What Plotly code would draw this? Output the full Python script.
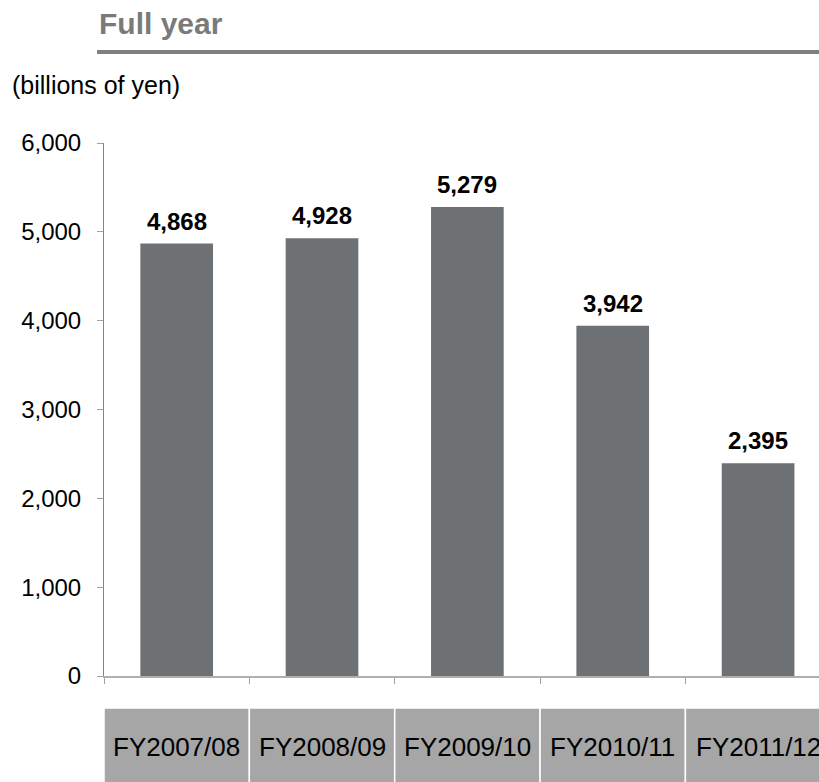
import plotly.graph_objects as go

# Net sales by fiscal year (billions of yen)
categories = ["FY2007/08", "FY2008/09", "FY2009/10", "FY2010/11", "FY2011/12"]
values = [4868, 4928, 5279, 3942, 2395]
y_ticks = [0, 1000, 2000, 3000, 4000, 5000, 6000]

W, H = 819, 782
M_L, M_T, M_B = 104, 143, 106
plot_w = W - M_L
plot_h = H - M_T - M_B
cat_px = 145.35  # horizontal space per category


def py(px_y):
    """Convert a page pixel row into paper y."""
    return (H - M_B - px_y) / plot_h


def px_x(px):
    """Convert a page pixel column into paper x."""
    return (px - M_L) / plot_w


x_pos = list(range(len(categories)))

fig = go.Figure()
fig.add_trace(go.Bar(
    x=x_pos, y=values, width=0.5,
    marker=dict(color="#6e7174", line=dict(width=0)),
    hoverinfo="skip",
))

annotations = []
# value labels above bars
for x, v in zip(x_pos, values):
    annotations.append(dict(
        x=x, y=v, xref="x", yref="y", text=f"<b>{v:,}</b>",
        showarrow=False, yanchor="bottom", yshift=7,
        font=dict(family="Liberation Sans, Arial", size=24, color="#000000"),
    ))

shapes = []
# category table row beneath the axis
for x, c in zip(x_pos, categories):
    shapes.append(dict(
        type="rect", xref="x", yref="paper",
        x0=x - 0.5, x1=x + 0.5, y0=py(800), y1=py(708),
        fillcolor="#a6a6a6", line=dict(color="#ffffff", width=1.5), layer="below",
    ))
    annotations.append(dict(
        x=x, y=py(747), xref="x", yref="paper", text=c, showarrow=False,
        xanchor="center", yanchor="middle",
        font=dict(family="Liberation Sans, Arial", size=26, color="#000000"),
    ))

# heading and rule
annotations.append(dict(
    x=px_x(97), y=py(23), xref="paper", yref="paper", text="<b>Full year</b>",
    showarrow=False, xanchor="left", yanchor="middle",
    font=dict(family="Liberation Sans, Arial", size=30, color="#7a7a7a"),
))
shapes.append(dict(
    type="line", xref="paper", yref="paper",
    x0=px_x(97), x1=1.0, y0=py(52), y1=py(52),
    line=dict(color="#7f7f7f", width=4),
))
annotations.append(dict(
    x=px_x(10), y=py(85), xref="paper", yref="paper", text="(billions of yen)",
    showarrow=False, xanchor="left", yanchor="middle",
    font=dict(family="Liberation Sans, Arial", size=25, color="#000000"),
))

fig.update_layout(
    width=W, height=H,
    margin=dict(l=M_L, r=0, t=M_T, b=M_B, pad=0),
    paper_bgcolor="#ffffff", plot_bgcolor="#ffffff",
    showlegend=False,
    annotations=annotations, shapes=shapes,
    xaxis=dict(
        range=[-0.5, -0.5 + plot_w / cat_px],
        tickvals=[i - 0.5 for i in range(len(categories) + 1)],
        showticklabels=False, ticks="outside", ticklen=6, tickcolor="#a0a0a0", tickwidth=1,
        showline=True, linecolor="#b0b0b0", linewidth=1.5,
        showgrid=False, zeroline=False, fixedrange=True,
    ),
    yaxis=dict(
        range=[0, 6000], tickvals=y_ticks,
        ticktext=[f"{t:,}" for t in y_ticks],
        ticks="outside", ticklen=6, tickcolor="#a0a0a0", tickwidth=1,
        ticklabelstandoff=11,
        showline=True, linecolor="#868686", linewidth=1,
        showgrid=False, zeroline=False, fixedrange=True,
        tickfont=dict(family="Liberation Sans, Arial", size=24, color="#000000"),
    ),
)

fig.write_html("out.html")
